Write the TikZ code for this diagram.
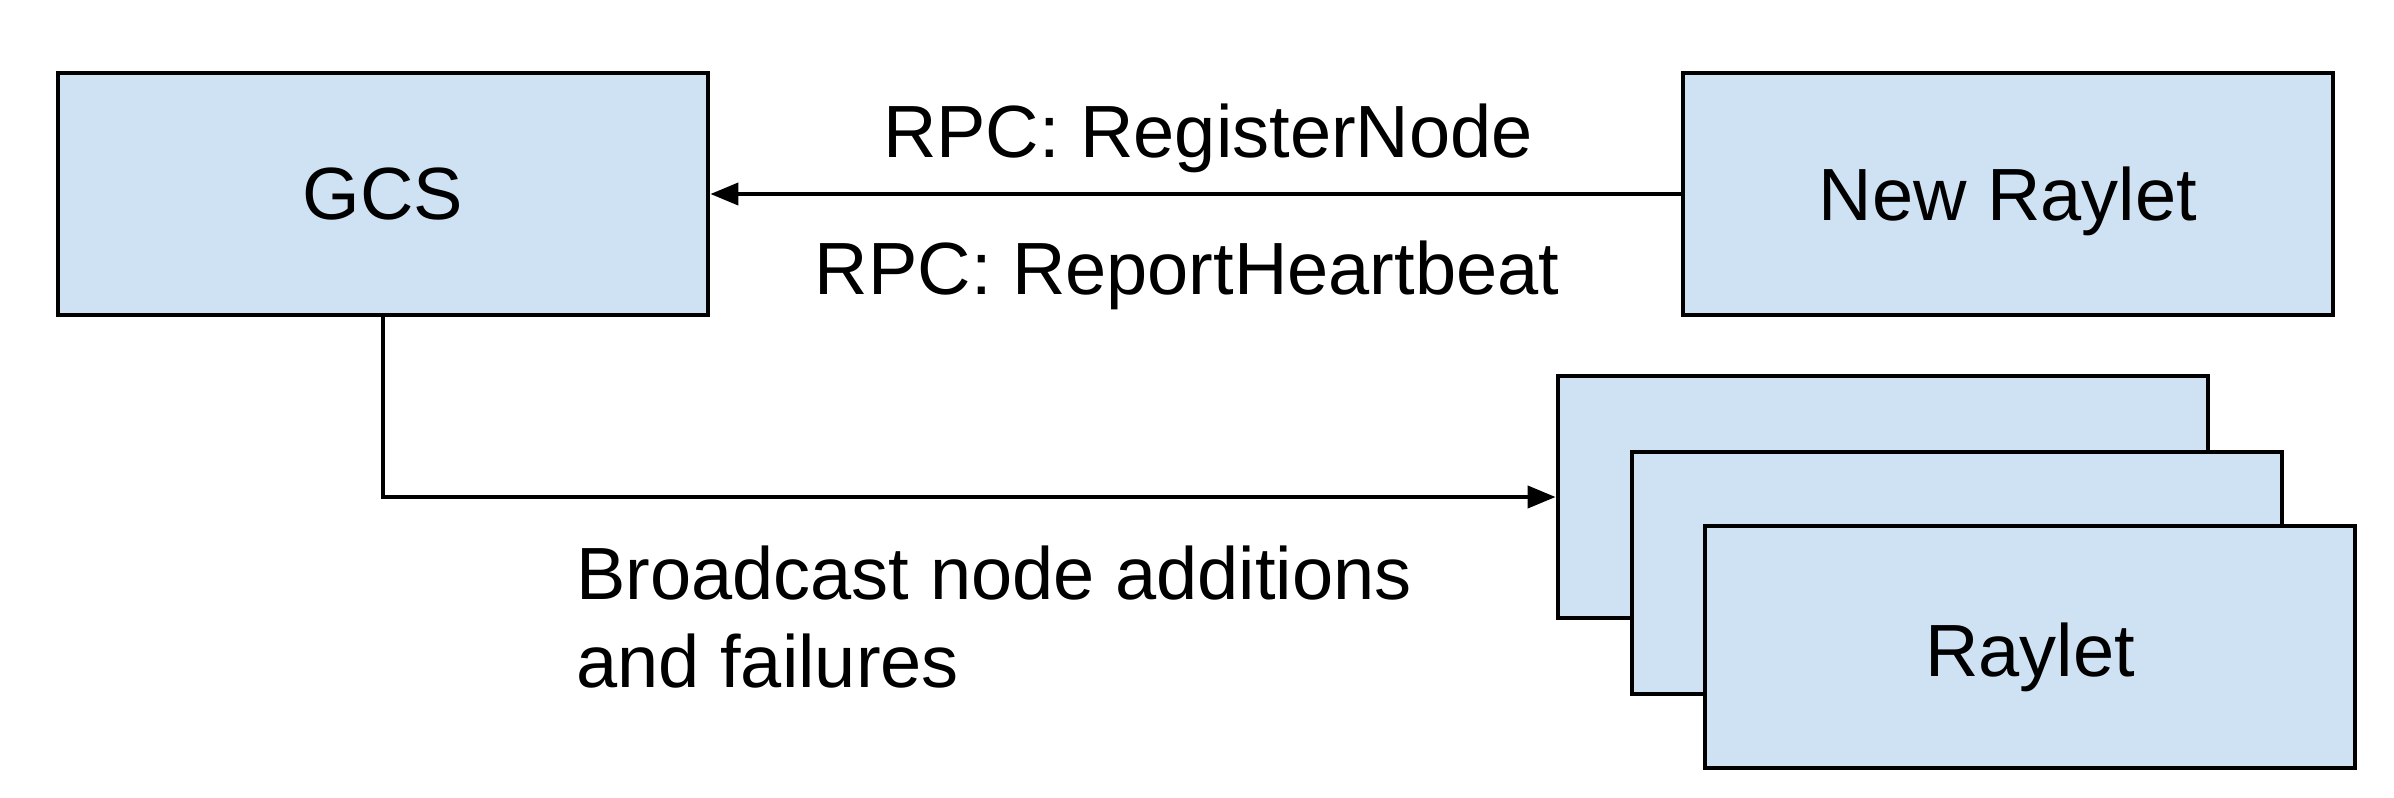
\documentclass[tikz,border=0pt]{standalone}
\usepackage{fontspec}
\setmainfont{Liberation Sans}
\usetikzlibrary{arrows.meta}
\definecolor{boxfill}{HTML}{CFE2F3}
\tikzset{
  box/.style={draw=black, fill=boxfill, line width=2.4pt, minimum width=325pt, minimum height=121pt, inner sep=0pt, text depth=0pt, font=\fontsize{37}{44}\selectfont},
  lbl/.style={inner sep=0pt, font=\fontsize{37}{44}\selectfont},
  conn/.style={draw=black, line width=2pt, -{Triangle[length=14pt,width=11pt]}}
}
\begin{document}
\begin{tikzpicture}[x=0.5pt,y=-0.5pt]
\useasboundingbox (0,0) rectangle (2394,798);
\node[box] (gcs) at (383,194) {GCS};
\node[box] (nr) at (2008,194) {New Raylet};
\node[box] (r1) at (1883,497) {};
\node[box] (r2) at (1957,573) {};
\node[box, text height=29pt] (r3) at (2030,647) {Raylet};
\draw[conn] (nr.west) -- (gcs.east);
\draw[conn] (gcs.south) |- (r1.west);
\node[lbl] (l1) at (1208,138) {RPC: RegisterNode};
\node[lbl] (l2) at (1187,275) {RPC: ReportHeartbeat};
\node[lbl, anchor=west, align=left] (l3) at (576,617) {Broadcast node additions\\and failures};
\end{tikzpicture}
\end{document}
